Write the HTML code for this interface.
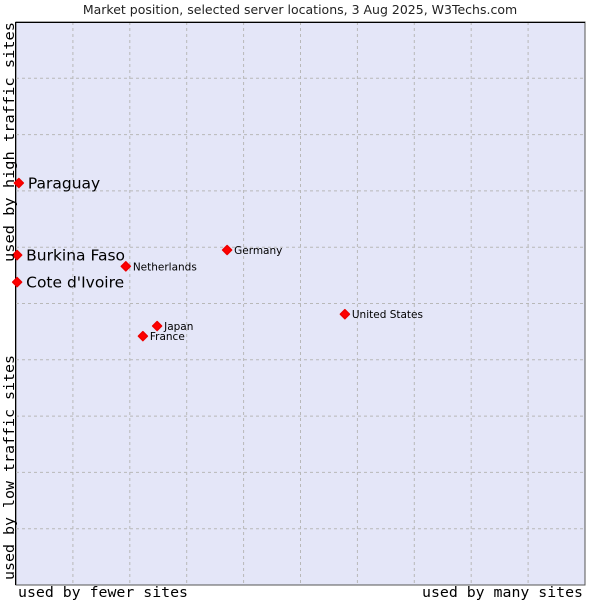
<!DOCTYPE html>
<html><head><meta charset="utf-8"><style>
body{margin:0;background:#fff;width:600px;height:600px;overflow:hidden}
svg{display:block}
</style></head><body>
<svg id="chart" width="600" height="600" xmlns="http://www.w3.org/2000/svg">
<text x="300" y="14" text-anchor="middle" font-family="DejaVu Sans, sans-serif" font-size="12.5" fill="#222">Market position, selected server locations, 3 Aug 2025, W3Techs.com</text>
<rect x="16" y="22" width="569" height="563" fill="#e4e6f8" stroke="#555" stroke-width="1"/>
<g id="grid"></g>
<line x1="15.5" y1="22" x2="15.5" y2="585" stroke="#000"/>
<line x1="16" y1="22.5" x2="585" y2="22.5" stroke="#000"/>
<g id="points"></g>
<text x="18" y="597" textLength="170" lengthAdjust="spacingAndGlyphs" font-family="DejaVu Sans Mono, monospace" font-size="14" fill="#000">used by fewer sites</text>
<text x="422" y="597" textLength="161" lengthAdjust="spacingAndGlyphs" font-family="DejaVu Sans Mono, monospace" font-size="14" fill="#000">used by many sites</text>
<text transform="translate(14,262) rotate(-90)" textLength="240" lengthAdjust="spacingAndGlyphs" font-family="DejaVu Sans Mono, monospace" font-size="14.5" fill="#000">used by high traffic sites</text>
<text transform="translate(14,580) rotate(-90)" textLength="225" lengthAdjust="spacingAndGlyphs" font-family="DejaVu Sans Mono, monospace" font-size="14.5" fill="#000">used by low traffic sites</text>
</svg>
<script>
const countries = ["Paraguay","Burkina Faso","Cote d'Ivoire","Netherlands","Germany","United States","Japan","France"];
const xValues = [0.5,0.2,0.2,19.3,37.1,57.8,24.8,22.3];
const yValues = [71.4,58.6,53.8,56.6,59.5,48.1,46.0,44.2];
const highlighted = [true,true,true,false,false,false,false,false];
const NS="http://www.w3.org/2000/svg";
const L=16,R=585,T=22,B=585;
function sx(v){return L+v/100*(R-L);}
function sy(v){return B-v/100*(B-T);}
const grid=document.getElementById('grid');
for(let i=1;i<10;i++){
  const x=L+i*(R-L)/10, y=T+i*(B-T)/10;
  const vl=document.createElementNS(NS,'line');
  vl.setAttribute('x1',x);vl.setAttribute('x2',x);vl.setAttribute('y1',T);vl.setAttribute('y2',B);
  vl.setAttribute('stroke','#b8b8b8');vl.setAttribute('stroke-dasharray','3,3');
  
  
  grid.appendChild(vl);
  const hl=document.createElementNS(NS,'line');
  hl.setAttribute('x1',L);hl.setAttribute('x2',R);hl.setAttribute('y1',y);hl.setAttribute('y2',y);
  hl.setAttribute('stroke','#b8b8b8');hl.setAttribute('stroke-dasharray','3,3');
  
  
  grid.appendChild(hl);
}
const pts=document.getElementById('points');
countries.forEach((c,i)=>{
  const x=sx(xValues[i]), y=sy(yValues[i]);
  const p=document.createElementNS(NS,'path');
  p.setAttribute('d',`M${x-4.5},${y} L${x},${y-4.5} L${x+4.5},${y} L${x},${y+4.5} Z`);
  p.setAttribute('fill','#ff0000');p.setAttribute('stroke','#e00');p.setAttribute('stroke-width','1.5');p.setAttribute('stroke-linejoin','round');
  
  
  pts.appendChild(p);
  const t=document.createElementNS(NS,'text');
  const big=highlighted[i];
  t.setAttribute('x',x+(big?9:7));t.setAttribute('y',y+(big?5.5:4));
  t.setAttribute('font-family','DejaVu Sans, sans-serif');
  t.setAttribute('font-size',big?'15.5':'10.5');
  t.setAttribute('fill','#000');
  t.textContent=c;
  
  
  pts.appendChild(t);
});
</script>
</body></html>
